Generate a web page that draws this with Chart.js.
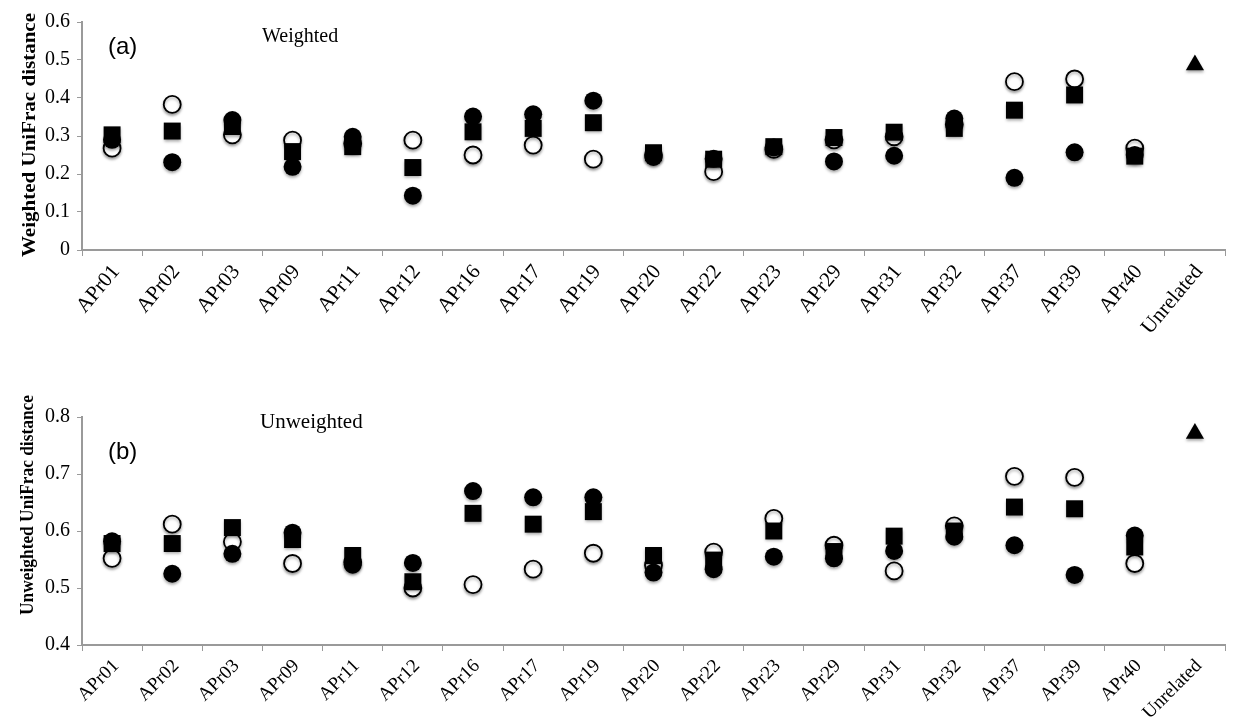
<!DOCTYPE html>
<html>
<head>
<meta charset="utf-8">
<script src="https://cdn.jsdelivr.net/npm/chart.js@4.4.0/dist/chart.umd.min.js"></script>
<style>
  body { margin: 0; background: #fff; }
  #wrapA { position: absolute; left: 0; top: 0; }
  #wrapB { position: absolute; left: 0; top: 370px; }
</style>
</head>
<body>
<div id="wrapA"><canvas id="chartA" width="1237" height="370"></canvas></div>
<div id="wrapB"><canvas id="chartB" width="1237" height="348"></canvas></div>
<script>
const categories = ['APr01', 'APr02', 'APr03', 'APr09', 'APr11', 'APr12', 'APr16', 'APr17', 'APr19',
  'APr20', 'APr22', 'APr23', 'APr29', 'APr31', 'APr32', 'APr37', 'APr39', 'APr40', 'Unrelated'];

// (a) weighted
const wSquare = [0.303, 0.313, 0.325, 0.259, 0.272, 0.217, 0.311, 0.320, 0.335, 0.256, 0.239, 0.272, 0.296, 0.310, 0.320, 0.368, 0.408, 0.247, null];
const wFilled = [0.290, 0.231, 0.342, 0.219, 0.298, 0.143, 0.351, 0.357, 0.393, 0.245, 0.240, 0.270, 0.233, 0.248, 0.346, 0.190, 0.257, 0.250, null];
const wOpen   = [0.268, 0.383, 0.303, 0.289, 0.280, 0.289, 0.250, 0.276, 0.239, 0.250, 0.206, 0.265, 0.290, 0.298, 0.330, 0.443, 0.450, 0.268, null];
const wUnrelated = [null, null, null, null, null, null, null, null, null, null, null, null, null, null, null, null, null, null, 0.487];
const wTicks = [0, 0.1, 0.2, 0.3, 0.4, 0.5, 0.6];

// (b) unweighted
const uSquare = [0.578, 0.578, 0.606, 0.585, 0.557, 0.511, 0.631, 0.612, 0.634, 0.557, 0.549, 0.600, 0.564, 0.591, 0.600, 0.642, 0.639, 0.572, null];
const uFilled = [0.582, 0.525, 0.560, 0.597, 0.541, 0.544, 0.670, 0.659, 0.659, 0.527, 0.533, 0.555, 0.552, 0.565, 0.590, 0.575, 0.523, 0.592, null];
const uOpen   = [0.552, 0.612, 0.581, 0.543, 0.545, 0.500, 0.506, 0.533, 0.561, 0.540, 0.563, 0.622, 0.575, 0.530, 0.609, 0.696, 0.694, 0.543, null];
const uUnrelated = [null, null, null, null, null, null, null, null, null, null, null, null, null, null, null, null, null, null, 0.771];
const uTicks = [0.4, 0.5, 0.6, 0.7, 0.8];

const serif = '"Liberation Serif", "Times New Roman", serif';
const sans = '"Liberation Sans", Arial, sans-serif';
const axisGray = '#9a9a9a';

// soft drop shadow under the markers, like the original figure
const shadowPlugin = {
  id: 'shadow',
  beforeDatasetsDraw(chart) {
    const c = chart.ctx;
    c.save();
    c.shadowColor = 'rgba(0,0,0,0.35)';
    c.shadowBlur = 3;
    c.shadowOffsetY = 2;
  },
  afterDatasetsDraw(chart) { chart.ctx.restore(); }
};

// panel letters, captions and the vertical axis title
const notes = {
  id: 'notes',
  afterDraw(chart, args, opts) {
    const c = chart.ctx;
    c.save();
    c.fillStyle = '#000';
    c.textBaseline = 'middle';
    opts.items.forEach(t => {
      c.font = t.font;
      c.fillText(t.text, t.x, t.y);
    });
    const yt = opts.yTitle;
    c.font = 'bold 18px ' + serif;
    c.textAlign = 'center';
    c.textBaseline = 'alphabetic';
    const w = c.measureText(yt.text).width;
    c.translate(yt.x, yt.y);
    c.rotate(-Math.PI / 2);
    c.scale(yt.len / w, 1);
    c.fillText(yt.text, 0, 0);
    c.restore();
  }
};

function makeSets(sq, filled, open, unrel) {
  const base = { showLine: false, borderColor: '#000' };
  return [
    Object.assign({ label: 'Square', data: sq, pointStyle: 'rect', pointRadius: 12, backgroundColor: '#000', borderWidth: 0 }, base),
    Object.assign({ label: 'Filled', data: filled, pointStyle: 'circle', pointRadius: 9, backgroundColor: '#000', borderWidth: 0 }, base),
    Object.assign({ label: 'Open', data: open, pointStyle: 'circle', pointRadius: 8.5, backgroundColor: '#fff', borderWidth: 1.8 }, base),
    Object.assign({ label: 'Unrelated', data: unrel, pointStyle: 'triangle', pointRadius: 10.5, backgroundColor: '#000', borderWidth: 0 }, base)
  ];
}

function makeChart(id, sets, ticks, padTop, xHeight, rot, fontSize, items, yTitle) {
  new Chart(document.getElementById(id), {
    type: 'line',
    data: { labels: categories, datasets: sets },
    plugins: [shadowPlugin, notes],
    options: {
      responsive: false,
      animation: false,
      events: [],
      layout: { padding: { top: padTop, left: 0, right: 0, bottom: 0 } },
      plugins: {
        legend: { display: false },
        tooltip: { enabled: false },
        notes: { items: items, yTitle: yTitle }
      },
      scales: {
        x: {
          type: 'category',
          offset: true,
          grid: { offset: true, drawOnChartArea: false, drawTicks: true, tickLength: 6, color: axisGray, lineWidth: 1 },
          border: { color: axisGray, width: 2 },
          ticks: {
            autoSkip: false, maxRotation: rot, minRotation: rot, padding: 4, labelOffset: 4,
            color: '#000',
            font: { family: serif, size: fontSize }
          },
          afterFit(scale) { scale.height = xHeight; }
        },
        y: {
          min: ticks[0],
          max: ticks[ticks.length - 1],
          afterBuildTicks(scale) { scale.ticks = ticks.map(v => ({ value: v })); },
          grid: { drawOnChartArea: false, drawTicks: true, tickLength: 5, color: axisGray, lineWidth: 1 },
          border: { color: axisGray, width: 2 },
          ticks: {
            color: '#000', padding: 7,
            font: { family: serif, size: 20 },
            callback: v => String(+v.toFixed(1))
          },
          afterFit(scale) { scale.width = 82; }
        }
      }
    }
  });
}

makeChart('chartA', makeSets(wSquare, wFilled, wOpen, wUnrelated), wTicks,
  22, 120, 50, 21, [
    { text: '(a)', x: 108, y: 47, font: '24px ' + sans },
    { text: 'Weighted', x: 262, y: 37, font: '20px ' + serif }
  ], { text: 'Weighted UniFrac distance', x: 35, y: 135, len: 244 });

makeChart('chartB', makeSets(uSquare, uFilled, uOpen, uUnrelated), uTicks,
  47, 73, 45, 19, [
    { text: '(b)', x: 108, y: 82, font: '24px ' + sans },
    { text: 'Unweighted', x: 260, y: 52, font: '21px ' + serif }
  ], { text: 'Unweighted UniFrac distance', x: 33, y: 135, len: 220 });
</script>
</body>
</html>
